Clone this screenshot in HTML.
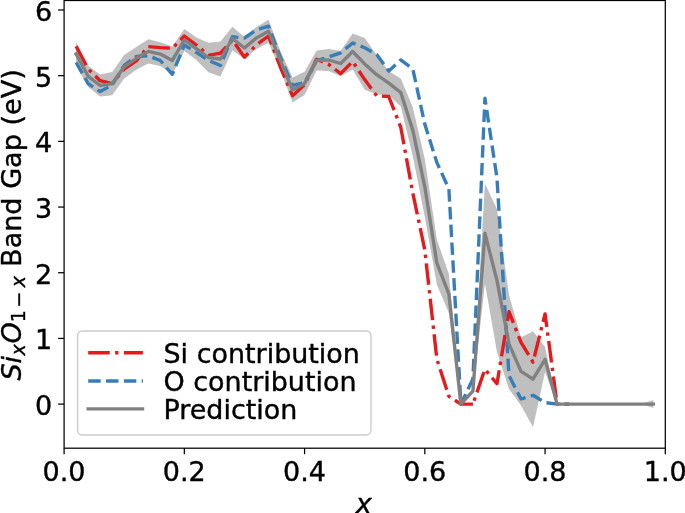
<!DOCTYPE html>
<html><head><meta charset="utf-8"><title>Band gap</title>
<style>html,body{margin:0;padding:0;background:#fff;width:685px;height:513px;overflow:hidden}text{stroke:#000;stroke-width:0.4px;stroke-linejoin:round}</style></head>
<body>
<svg width="685" height="513" viewBox="0 0 685 513" style="display:block;position:absolute;left:0;top:0" font-family="'DejaVu Sans','Liberation Sans',sans-serif" fill="#000">
<rect width="685" height="513" fill="#fff"/>
<defs><clipPath id="ax"><rect x="64.1" y="0.5" width="601.1999999999999" height="447.7"/></clipPath></defs>
<g clip-path="url(#ax)">
<path d="M76.12,41.90 L88.15,65.70 L100.17,74.50 L112.20,71.90 L124.22,55.05 L136.24,46.95 L148.27,39.20 L160.29,42.20 L172.32,46.50 L184.34,29.00 L196.36,37.40 L208.39,42.70 L220.41,41.60 L232.44,26.80 L244.46,37.00 L256.48,26.90 L268.51,19.80 L280.53,51.30 L292.56,77.60 L304.58,71.80 L316.60,50.40 L328.63,49.00 L340.65,50.80 L352.68,33.50 L364.70,38.10 L376.72,55.00 L388.75,71.30 L400.77,78.50 L412.80,107.20 L424.82,159.00 L436.84,239.50 L448.87,274.00 L460.89,403.50 L472.92,390.20 L484.94,183.40 L496.96,208.90 L508.99,294.90 L521.01,337.40 L533.04,331.20 L545.06,346.90 L557.08,404.10 L569.11,404.10 L581.13,404.10 L593.16,404.10 L605.18,404.10 L617.20,404.10 L629.23,404.10 L641.25,404.10 L653.28,400.10 L653.28,408.10 L641.25,404.10 L629.23,404.10 L617.20,404.10 L605.18,404.10 L593.16,404.10 L581.13,404.10 L569.11,404.10 L557.08,404.10 L545.06,371.90 L533.04,427.20 L521.01,405.40 L508.99,388.90 L496.96,351.90 L484.94,283.40 L472.92,392.20 L460.89,404.50 L448.87,313.00 L436.84,284.50 L424.82,217.00 L412.80,156.20 L400.77,106.50 L388.75,95.10 L376.72,94.40 L364.70,89.70 L352.68,69.50 L340.65,76.20 L328.63,71.00 L316.60,70.40 L304.58,95.00 L292.56,102.40 L280.53,70.30 L268.51,42.80 L256.48,48.90 L244.46,59.00 L232.44,50.20 L220.41,76.40 L208.39,72.30 L196.36,60.00 L184.34,51.00 L172.32,74.30 L160.29,66.00 L148.27,63.60 L136.24,69.65 L124.22,78.55 L112.20,95.30 L100.17,96.50 L88.15,86.90 L76.12,65.90Z" fill="#808080" fill-opacity="0.5" stroke="none"/>
<path d="M76.12,46.30 L88.15,69.00 L100.17,80.70 L112.20,83.60 L124.22,69.00 L136.24,60.90 L148.27,46.60 L160.29,47.60 L172.32,48.30 L184.34,36.00 L196.36,45.00 L208.39,55.30 L220.41,53.10 L232.44,40.00 L244.46,57.20 L256.48,44.80 L268.51,36.00 L280.53,67.50 L292.56,95.80 L304.58,84.80 L316.60,59.20 L328.63,64.40 L340.65,73.60 L352.68,61.50 L364.70,79.60 L376.72,95.80 L388.75,96.50 L400.77,127.30 L412.80,193.00 L424.82,250.00 L436.84,359.00 L448.87,396.30 L460.89,404.10 L472.92,404.10" fill="none" stroke="#e41a1c" stroke-width="3.38" stroke-linejoin="round" stroke-dasharray="21.54 5.38 3.37 5.38"/>
<path d="M472.92,404.10 L484.94,369.20 L496.96,383.80 L508.99,311.70 L521.01,342.40 L533.04,362.10 L545.06,313.90 L557.08,404.10 L569.11,404.10" fill="none" stroke="#e41a1c" stroke-width="3.38" stroke-linejoin="round" stroke-dasharray="21.54 5.38 3.37 5.38" stroke-dashoffset="23.3"/>
<path d="M76.12,62.40 L88.15,83.60 L100.17,91.60 L112.20,85.00 L124.22,65.30 L136.24,56.50 L148.27,55.80 L160.29,60.50 L172.32,74.30 L184.34,45.00 L196.36,52.40 L208.39,60.40 L220.41,65.50 L232.44,36.70 L244.46,38.00 L256.48,29.90 L268.51,26.20 L280.53,57.70 L292.56,85.30 L304.58,82.60 L316.60,60.70 L328.63,57.00 L340.65,52.80 L352.68,43.00 L364.70,47.80 L376.72,54.40 L388.75,71.10 L400.77,59.90 L412.80,68.90 L424.82,124.30 L436.84,162.40 L448.87,188.80 L460.89,404.10 L472.92,379.00" fill="none" stroke="#377eb8" stroke-width="3.38" stroke-linejoin="round" stroke-dasharray="12.45 5.38"/>
<path d="M472.92,379.00 L484.94,98.30 L496.96,177.80 L508.99,375.60 L521.01,399.00 L533.04,395.30 L545.06,402.60 L557.08,404.10 L569.11,404.10" fill="none" stroke="#377eb8" stroke-width="3.38" stroke-linejoin="round" stroke-dasharray="12.45 5.38" stroke-dashoffset="10.2"/>
<path d="M76.12,53.90 L88.15,76.30 L100.17,85.50 L112.20,83.60 L124.22,66.80 L136.24,58.30 L148.27,51.40 L160.29,54.10 L172.32,60.40 L184.34,40.00 L196.36,48.70 L208.39,57.50 L220.41,59.00 L232.44,38.50 L244.46,48.00 L256.48,37.90 L268.51,31.30 L280.53,60.80 L292.56,90.00 L304.58,83.40 L316.60,60.40 L328.63,60.00 L340.65,63.50 L352.68,51.50 L364.70,63.90 L376.72,74.70 L388.75,83.20 L400.77,92.50 L412.80,130.20 L424.82,187.00 L436.84,263.00 L448.87,294.00 L460.89,404.00 L472.92,391.20 L484.94,233.40 L496.96,280.40 L508.99,343.90 L521.01,371.40 L533.04,379.20 L545.06,359.40 L557.08,404.10 L569.11,404.10 L581.13,404.10 L593.16,404.10 L605.18,404.10 L617.20,404.10 L629.23,404.10 L641.25,404.10 L653.28,404.10" fill="none" stroke="#808080" stroke-width="3.38" stroke-linejoin="round" stroke-linecap="square"/>
</g>
<rect x="64.1" y="0.5" width="601.1999999999999" height="447.7" fill="none" stroke="#000" stroke-width="1.25"/>
<line x1="64.10" y1="448.2" x2="64.10" y2="454.2" stroke="#000" stroke-width="1.25"/>
<text x="64.10" y="481.0" font-size="27.0" text-anchor="middle">0.0</text>
<line x1="184.34" y1="448.2" x2="184.34" y2="454.2" stroke="#000" stroke-width="1.25"/>
<text x="184.34" y="481.0" font-size="27.0" text-anchor="middle">0.2</text>
<line x1="304.58" y1="448.2" x2="304.58" y2="454.2" stroke="#000" stroke-width="1.25"/>
<text x="304.58" y="481.0" font-size="27.0" text-anchor="middle">0.4</text>
<line x1="424.82" y1="448.2" x2="424.82" y2="454.2" stroke="#000" stroke-width="1.25"/>
<text x="424.82" y="481.0" font-size="27.0" text-anchor="middle">0.6</text>
<line x1="545.06" y1="448.2" x2="545.06" y2="454.2" stroke="#000" stroke-width="1.25"/>
<text x="545.06" y="481.0" font-size="27.0" text-anchor="middle">0.8</text>
<line x1="665.30" y1="448.2" x2="665.30" y2="454.2" stroke="#000" stroke-width="1.25"/>
<text x="665.30" y="481.0" font-size="27.0" text-anchor="middle">1.0</text>
<line x1="64.1" y1="404.10" x2="58.099999999999994" y2="404.10" stroke="#000" stroke-width="1.25"/>
<text x="52.3" y="415.10" font-size="27.0" text-anchor="end">0</text>
<line x1="64.1" y1="338.42" x2="58.099999999999994" y2="338.42" stroke="#000" stroke-width="1.25"/>
<text x="52.3" y="349.42" font-size="27.0" text-anchor="end">1</text>
<line x1="64.1" y1="272.73" x2="58.099999999999994" y2="272.73" stroke="#000" stroke-width="1.25"/>
<text x="52.3" y="283.73" font-size="27.0" text-anchor="end">2</text>
<line x1="64.1" y1="207.05" x2="58.099999999999994" y2="207.05" stroke="#000" stroke-width="1.25"/>
<text x="52.3" y="218.05" font-size="27.0" text-anchor="end">3</text>
<line x1="64.1" y1="141.37" x2="58.099999999999994" y2="141.37" stroke="#000" stroke-width="1.25"/>
<text x="52.3" y="152.37" font-size="27.0" text-anchor="end">4</text>
<line x1="64.1" y1="75.68" x2="58.099999999999994" y2="75.68" stroke="#000" stroke-width="1.25"/>
<text x="52.3" y="86.68" font-size="27.0" text-anchor="end">5</text>
<line x1="64.1" y1="10.00" x2="58.099999999999994" y2="10.00" stroke="#000" stroke-width="1.25"/>
<text x="52.3" y="21.00" font-size="27.0" text-anchor="end">6</text>
<text x="363.8" y="513.2" font-size="27.0" font-style="italic" text-anchor="middle">x</text>
<text transform="translate(20.7,380.6) rotate(-90)" font-size="27.05" font-style="italic">Si</text>
<text transform="translate(25.2,355.6) rotate(-90)" font-size="19.0" font-style="italic">x</text>
<text transform="translate(20.7,343.6) rotate(-90)" font-size="27.05" font-style="italic">O</text>
<text transform="translate(25.2,322.3) rotate(-90)" font-size="19.0">1</text>
<text transform="translate(25.2,307.5) rotate(-90)" font-size="19.0">−</text>
<text transform="translate(25.2,287.2) rotate(-90)" font-size="19.0" font-style="italic">x</text>
<text transform="translate(20.7,266.9) rotate(-90)" font-size="27.05">Band Gap (eV)</text>
<rect x="77.6" y="331" width="293.4" height="103.9" rx="4.6" ry="4.6" fill="#fff" fill-opacity="0.8" stroke="#ccc" stroke-width="1.45"/>
<line x1="88.2" y1="352.7" x2="142.9" y2="352.7" stroke="#e41a1c" stroke-width="3.38" stroke-dasharray="21.54 5.38 3.37 5.38"/>
<line x1="88.2" y1="381" x2="142.9" y2="381" stroke="#377eb8" stroke-width="3.38" stroke-dasharray="12.45 5.38"/>
<line x1="88.2" y1="408.9" x2="142.5" y2="408.9" stroke="#808080" stroke-width="3.38" stroke-linecap="square"/>
<text x="163.5" y="362.5" font-size="26.95">Si contribution</text>
<text x="163.5" y="390.6" font-size="26.95">O contribution</text>
<text x="163.5" y="418.7" font-size="26.95">Prediction</text>
</svg>
</body></html>
